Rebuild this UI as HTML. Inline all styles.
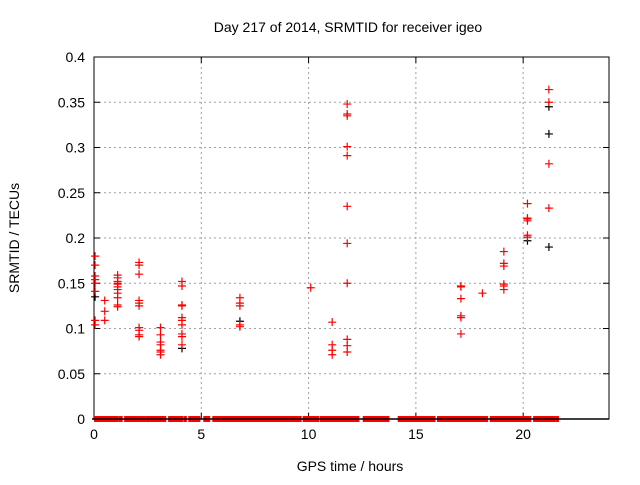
<!DOCTYPE html>
<html><head><meta charset="utf-8"><style>
body{margin:0;background:#fff}
svg text{font-family:"Liberation Sans",sans-serif;font-size:14px;fill:#000}
</style></head><body>
<svg id="c" width="640" height="480" xmlns="http://www.w3.org/2000/svg"></svg>
<script>
const xTicks=[0,5,10,15,20];
const yTicks=[0,0.05,0.1,0.15,0.2,0.25,0.3,0.35,0.4];
const yTickLabels=["0","0.05","0.1","0.15","0.2","0.25","0.3","0.35","0.4"];
const redX=[0.05,0.05,0.05,0.05,0.05,0.05,0.05,0.05,
0.5,0.5,0.5,
1.1,1.1,1.1,1.1,1.1,1.1,1.1,1.1,1.1,1.1,1.1,
2.1,2.1,2.1,2.1,2.1,2.1,2.1,2.1,2.1,2.1,
3.1,3.1,3.1,3.1,3.1,3.1,3.1,
4.1,4.1,4.1,4.1,4.1,4.1,4.1,4.1,4.1,4.1,
6.8,6.8,6.8,6.8,6.8,
10.1,
11.1,11.1,11.1,11.1,
11.8,11.8,11.8,11.8,11.8,11.8,11.8,11.8,11.8,11.8,11.8,
17.1,17.1,17.1,17.1,17.1,17.1,
18.1,
19.1,19.1,19.1,19.1,19.1,19.1,
20.2,20.2,20.2,20.2,20.2,20.2,
21.2,21.2,21.2,21.2];
const redY=[0.180,0.170,0.158,0.154,0.150,0.141,0.109,0.104,
0.131,0.119,0.109,
0.159,0.156,0.152,0.150,0.149,0.146,0.143,0.139,0.134,0.126,0.124,
0.173,0.170,0.160,0.131,0.128,0.125,0.101,0.098,0.093,0.091,
0.101,0.093,0.085,0.082,0.076,0.074,0.071,
0.152,0.147,0.126,0.125,0.112,0.109,0.104,0.094,0.091,0.082,
0.134,0.128,0.125,0.104,0.102,
0.145,
0.107,0.082,0.076,0.071,
0.348,0.337,0.335,0.301,0.291,0.235,0.194,0.150,0.088,0.081,0.074,
0.147,0.146,0.133,0.114,0.112,0.094,
0.139,
0.185,0.172,0.169,0.149,0.147,0.143,
0.238,0.222,0.221,0.219,0.203,0.201,
0.364,0.350,0.282,0.233];
const blackX=[0.05,4.1,6.8,20.2,21.2,21.2,21.2];
const blackY=[0.135,0.078,0.108,0.197,0.345,0.315,0.19];
const zeroStart=[0.05,1.21,1.45,2.15,2.43,3.21,3.50,4.21,4.44,5.14,5.56,5.78,6.06,6.90,9.35,9.77,9.92,10.56,10.93,11.18,11.82,12.57,12.99,14.20,14.48,15.16,15.26,15.44,16.03,16.26,16.48,17.24,17.37,17.96,18.49,18.96,19.21,20.17,20.51,21.25,21.54];
const zeroEnd=[1.11,1.29,2.07,2.34,3.13,3.32,4.10,4.28,4.91,5.37,5.69,6.01,6.87,9.31,9.63,9.86,10.44,10.87,11.12,11.78,12.32,12.91,13.72,14.45,15.11,15.20,15.36,15.87,16.21,16.43,17.15,17.32,17.90,18.32,18.89,19.16,20.14,20.33,21.18,21.45,21.62];
const L=94,R=609,T=57,B=419,XMAX=24,YMAX=0.4;
const sx=v=>L+(R-L)*v/XMAX, sy=v=>B-(B-T)*v/YMAX;
const svg=document.getElementById('c');const NS="http://www.w3.org/2000/svg";
function el(t,a,p){const e=document.createElementNS(NS,t);for(const k in a)e.setAttribute(k,a[k]);(p||svg).appendChild(e);return e;}
xTicks.forEach(v=>{if(v>0){const g=el('line',{x1:sx(v),x2:sx(v),y1:T,y2:B,stroke:'#a0a0a0','stroke-dasharray':'2,3'});

}});
yTicks.forEach(v=>{if(v>0&&v<YMAX){const g=el('line',{x1:L,x2:R,y1:sy(v),y2:sy(v),stroke:'#a0a0a0','stroke-dasharray':'2,3'});

}});
const fr=el('rect',{x:L,y:T,width:R-L,height:B-T,fill:'none',stroke:'#000'});


yTicks.forEach((v,i)=>{el('line',{x1:L,x2:L+6,y1:sy(v),y2:sy(v),stroke:'#000'});el('line',{x1:R,x2:R-6,y1:sy(v),y2:sy(v),stroke:'#000'});
const t=el('text',{x:L-9,y:sy(v)+5,'text-anchor':'end'});t.textContent=yTickLabels[i];

});
xTicks.forEach(v=>{el('line',{x1:sx(v),x2:sx(v),y1:B,y2:B-6,stroke:'#000'});el('line',{x1:sx(v),x2:sx(v),y1:T,y2:T+6,stroke:'#000'});
const t=el('text',{x:sx(v),y:B+20,'text-anchor':'middle'});t.textContent=String(v);

});
zeroStart.forEach((s,i)=>{const r=el('rect',{x:sx(s)-1,y:sy(0)-3,width:sx(zeroEnd[i])-sx(s)+2,height:6,fill:'#f00'});

});
const zl=el('line',{x1:L-2,x2:R,y1:B,y2:B,stroke:'#000','stroke-width':1.5});


function plus(x,y,c,name){const g=el('path',{d:`M${sx(x)-4},${sy(y)}h8M${sx(x)},${sy(y)-4}v8`,stroke:c,'stroke-width':1.2,fill:'none'});

}
blackX.forEach((x,i)=>plus(x,blackY[i],'#000','black-point'));
redX.forEach((x,i)=>plus(x,redY[i],'#f00','red-point'));
const ti=el('text',{x:348,y:32,'text-anchor':'middle'});ti.textContent='Day 217 of 2014, SRMTID for receiver igeo';


const xl=el('text',{x:350,y:471,'text-anchor':'middle'});xl.textContent='GPS time / hours';


const yl=el('text',{x:0,y:0,'text-anchor':'middle',transform:'translate(19,238) rotate(-90)'});yl.textContent='SRMTID / TECUs';


</script>
</body></html>
